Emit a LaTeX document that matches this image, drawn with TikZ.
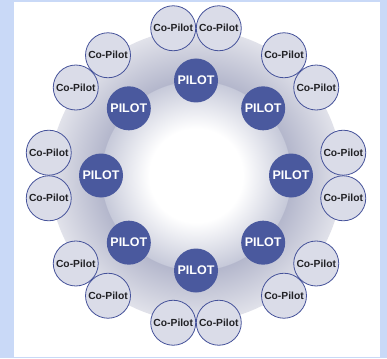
\documentclass[tikz,border=0pt]{standalone}
\usepackage{fontspec}
\setmainfont{Liberation Sans}
\definecolor{bgblue}{HTML}{C9D9F7}
\definecolor{pilotblue}{HTML}{4A599E}
\definecolor{cofill}{HTML}{DADCE8}
\definecolor{coline}{HTML}{45529A}
\definecolor{cotext}{HTML}{222226}
\definecolor{innerrim}{HTML}{C6C9D9}
\definecolor{ringin}{HTML}{B4B7CC}
\definecolor{ringout}{HTML}{E1E2EA}
\pgfdeclareradialshading{hub}{\pgfpoint{0bp}{0bp}}{color(0bp)=(white); color(8bp)=(white); color(16.2bp)=(innerrim); color(16.3bp)=(ringin); color(25bp)=(ringout); color(50bp)=(ringout)}
\tikzset{
  pilot/.style={circle, fill=pilotblue, minimum size=44pt, inner sep=0pt, text=white, font=\bfseries\fontsize{12.5}{12.5}\selectfont},
  copilot/.style={circle, draw=coline, line width=0.8pt, fill=cofill, minimum size=45pt, inner sep=0pt, text=cotext, font=\bfseries\fontsize{10.3}{10.3}\selectfont}
}
\begin{document}
\begin{tikzpicture}[x=1pt,y=-1pt]
\useasboundingbox (0,0) rectangle (387,358);
\fill[bgblue] (0,0) rectangle (387,358);
\fill[white] (14,2) rectangle (380,356.5);
\begin{scope}[shift={(196,175.5)}]
  \shade[shading=hub] (0,0) circle (146);
  \foreach \k in {0,...,7} {
    \node[pilot] (p\k) at (\k*45:95) {PILOT};
    \node[copilot] (ca\k) at (\k*45-8.8:149) {Co-Pilot};
    \node[copilot] (cb\k) at (\k*45+8.8:149) {Co-Pilot};
  }
\end{scope}
\end{tikzpicture}
\end{document}
